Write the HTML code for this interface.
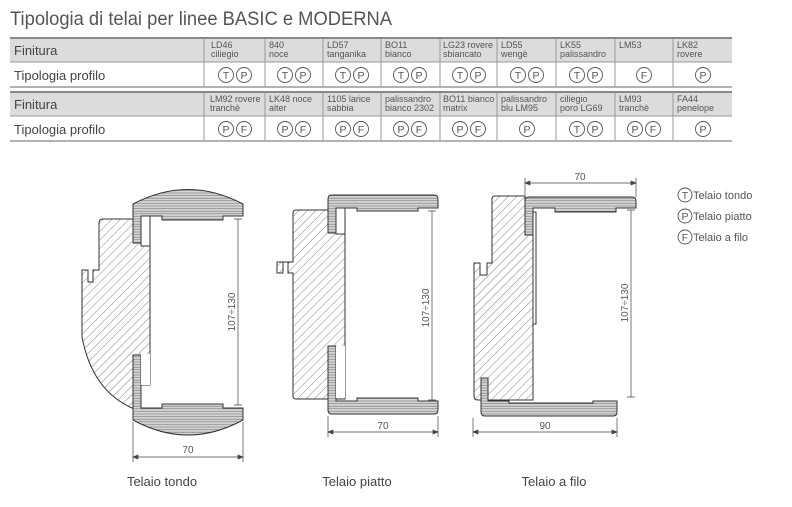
<!DOCTYPE html>
<html><head><meta charset="utf-8"><style>
html,body{margin:0;padding:0;background:#fff;}
svg{display:block;font-family:"Liberation Sans",sans-serif;}
</style></head><body>
<svg width="792" height="507" viewBox="0 0 792 507" xmlns="http://www.w3.org/2000/svg">
<defs>
<pattern id="h" patternUnits="userSpaceOnUse" width="6" height="6" patternTransform="rotate(45)">
<rect width="6" height="6" fill="#fff"/><line x1="0" y1="0" x2="0" y2="6" stroke="#666" stroke-width="0.8"/>
</pattern>
<pattern id="s" patternUnits="userSpaceOnUse" width="4" height="2.6">
<rect width="4" height="2.6" fill="#d4d4d4"/><line x1="0" y1="0.6" x2="4" y2="0.6" stroke="#777" stroke-width="0.6"/>
</pattern>
</defs>
<text x="10" y="25" font-size="19.5" fill="#555" textLength="382" lengthAdjust="spacingAndGlyphs">Tipologia di telai per linee BASIC e MODERNA</text>

<g stroke="#999" stroke-width="1">
<rect x="10" y="38" width="722" height="24" fill="#dcdcdc" stroke="none"/>
<line x1="10" y1="38" x2="732" y2="38" stroke="#888" stroke-width="2"/>
<line x1="10" y1="62" x2="732" y2="62"/>
<line x1="10" y1="87" x2="732" y2="87" stroke-width="1.5"/>
<rect x="10" y="92" width="722" height="24" fill="#dcdcdc" stroke="none"/>
<line x1="10" y1="92" x2="732" y2="92" stroke="#888" stroke-width="2"/>
<line x1="10" y1="116" x2="732" y2="116"/>
<line x1="10" y1="141" x2="732" y2="141" stroke-width="1.5"/>
<path d="M204 39V87M265 39V87M323 39V87M381 39V87M440 39V87M497 39V87M556 39V87M615 39V87M673 39V87M204 93V141M265 93V141M323 93V141M381 93V141M440 93V141M497 93V141M556 93V141M615 93V141M673 93V141"/>
</g>
<g font-size="13" fill="#444">
<text x="14" y="55">Finitura</text><text x="14" y="80">Tipologia profilo</text>
<text x="14" y="109">Finitura</text><text x="14" y="134">Tipologia profilo</text>
</g>
<g font-size="9" fill="#555">
<text x="211" y="48">LD46</text><text x="211" y="57">ciliegio</text>
<text x="269" y="48">840</text><text x="269" y="57">noce</text>
<text x="327" y="48">LD57</text><text x="327" y="57">tanganika</text>
<text x="385" y="48">BO11</text><text x="385" y="57">bianco</text>
<text x="443" y="48">LG23 rovere</text><text x="443" y="57">sbiancato</text>
<text x="501" y="48">LD55</text><text x="501" y="57">wengè</text>
<text x="560" y="48">LK55</text><text x="560" y="57">palissandro</text>
<text x="619" y="48">LM53</text>
<text x="677" y="48">LK82</text><text x="677" y="57">rovere</text>
<text x="210" y="102">LM92 rovere</text><text x="210" y="111">tranchè</text>
<text x="269" y="102">LK48 noce</text><text x="269" y="111">alter</text>
<text x="327" y="102">1105 larice</text><text x="327" y="111">sabbia</text>
<text x="385" y="102">palissandro</text><text x="385" y="111">bianco 2302</text>
<text x="443" y="102">BO11 bianco</text><text x="443" y="111">matrix</text>
<text x="501" y="102">palissandro</text><text x="501" y="111">blu LM95</text>
<text x="560" y="102">ciliegio</text><text x="560" y="111">poro LG69</text>
<text x="619" y="102">LM93</text><text x="619" y="111">tranchè</text>
<text x="677" y="102">FA44</text><text x="677" y="111">penelope</text>
</g>
<g fill="none" stroke="#555" stroke-width="0.9">
<circle cx="226" cy="75" r="7.5"/><circle cx="244" cy="75" r="7.5"/>
<circle cx="285" cy="75" r="7.5"/><circle cx="303" cy="75" r="7.5"/>
<circle cx="343" cy="75" r="7.5"/><circle cx="361" cy="75" r="7.5"/>
<circle cx="401" cy="75" r="7.5"/><circle cx="419" cy="75" r="7.5"/>
<circle cx="460" cy="75" r="7.5"/><circle cx="478" cy="75" r="7.5"/>
<circle cx="518" cy="75" r="7.5"/><circle cx="536" cy="75" r="7.5"/>
<circle cx="577" cy="75" r="7.5"/><circle cx="595" cy="75" r="7.5"/>
<circle cx="644" cy="75" r="7.5"/><circle cx="703" cy="75" r="7.5"/>
<circle cx="226" cy="129" r="7.5"/><circle cx="244" cy="129" r="7.5"/>
<circle cx="285" cy="129" r="7.5"/><circle cx="303" cy="129" r="7.5"/>
<circle cx="343" cy="129" r="7.5"/><circle cx="361" cy="129" r="7.5"/>
<circle cx="401" cy="129" r="7.5"/><circle cx="419" cy="129" r="7.5"/>
<circle cx="460" cy="129" r="7.5"/><circle cx="478" cy="129" r="7.5"/>
<circle cx="527" cy="129" r="7.5"/>
<circle cx="577" cy="129" r="7.5"/><circle cx="595" cy="129" r="7.5"/>
<circle cx="635" cy="129" r="7.5"/><circle cx="653" cy="129" r="7.5"/>
<circle cx="703" cy="129" r="7.5"/>
<circle cx="685" cy="195" r="7"/><circle cx="685" cy="216" r="7"/><circle cx="685" cy="237" r="7"/>
</g>
<g font-size="10.5" fill="#555" text-anchor="middle">
<text x="226" y="79">T</text><text x="244" y="79">P</text>
<text x="285" y="79">T</text><text x="303" y="79">P</text>
<text x="343" y="79">T</text><text x="361" y="79">P</text>
<text x="401" y="79">T</text><text x="419" y="79">P</text>
<text x="460" y="79">T</text><text x="478" y="79">P</text>
<text x="518" y="79">T</text><text x="536" y="79">P</text>
<text x="577" y="79">T</text><text x="595" y="79">P</text>
<text x="644" y="79">F</text><text x="703" y="79">P</text>
<text x="226" y="133">P</text><text x="244" y="133">F</text>
<text x="285" y="133">P</text><text x="303" y="133">F</text>
<text x="343" y="133">P</text><text x="361" y="133">F</text>
<text x="401" y="133">P</text><text x="419" y="133">F</text>
<text x="460" y="133">P</text><text x="478" y="133">F</text>
<text x="527" y="133">P</text>
<text x="577" y="133">T</text><text x="595" y="133">P</text>
<text x="635" y="133">P</text><text x="653" y="133">F</text>
<text x="703" y="133">P</text>
<text x="685" y="199">T</text><text x="685" y="220">P</text><text x="685" y="241">F</text>
</g>
<g font-size="11" fill="#555">
<text x="693" y="199">Telaio tondo</text><text x="693" y="220">Telaio piatto</text><text x="693" y="241">Telaio a filo</text>
</g>

<!-- Drawing 1 -->
<g stroke="#333" stroke-width="1">
<path d="M103 219 H150 V385 H140 V408 H132 Q92 390 82 337 V270 H88 V282 H93 V270 H99 V223 Q99 219 103 219Z" fill="url(#h)"/>
<path d="M133 204 Q188 175 243 204 V216 H223 V220 H162 V216 H141 V243 H133Z" fill="url(#s)"/>
<path d="M133 408 V355 H141 V408 H162 V404 H223 V408 H243 V420 Q188 450 133 420Z" fill="url(#s)"/>
<rect x="141" y="216" width="9" height="30" fill="#fff"/>
<rect x="141" y="354" width="9" height="31" fill="#fff" stroke="none"/>
</g>
<g stroke="#444" stroke-width="0.7" fill="none">
<path d="M238 219V405M234 219H242M234 405H242"/>
<path d="M133 422V462M243 422V462M133 457H243"/>
<path d="M133 457l5-2v4zM243 457l-5-2v4z" fill="#444"/>
</g>
<text x="188" y="453" font-size="10" fill="#555" text-anchor="middle">70</text>
<text transform="translate(235,312) rotate(-90)" font-size="10" fill="#555" text-anchor="middle">107÷130</text>

<!-- Drawing 2 -->
<g stroke="#333" stroke-width="1">
<path d="M296 210 H345 V399 H296 Q293 399 293 396 V273 H288 V262 H283 V273 H277 V262 H293 V213 Q293 210 296 210Z" fill="url(#h)"/>
<path d="M328 199 Q328 195 332 195 H434 Q438 195 438 199 V208 H418 V211 H357 V208 H336 V233 H328Z" fill="url(#s)"/>
<path d="M328 401 V346 H336 V401 H357 V398 H418 V401 H438 V410 Q438 414 434 414 H332 Q328 414 328 410Z" fill="url(#s)"/>
<rect x="336" y="208" width="9" height="26" fill="#fff"/>
<rect x="336" y="346" width="9" height="52" fill="#fff" stroke="none"/>
</g>
<g stroke="#444" stroke-width="0.7" fill="none">
<path d="M432 211V400M428 211H436M428 400H436"/>
<path d="M328 416V437M438 416V437M328 432H438"/>
<path d="M328 432l5-2v4zM438 432l-5-2v4z" fill="#444"/>
</g>
<text x="383" y="429" font-size="10" fill="#555" text-anchor="middle">70</text>
<text transform="translate(429,308) rotate(-90)" font-size="10" fill="#555" text-anchor="middle">107÷130</text>

<!-- Drawing 3 -->
<g stroke="#333" stroke-width="1">
<path d="M495 196 H525 V235 H533 V400 H478 Q474 400 474 396 V263 H480 V275 H487 V263 H492 V199 Q492 196 495 196Z" fill="url(#h)"/>
<path d="M529 197 H632 Q636 197 636 201 V208 H616 V212 H555 V208 H533 V235 H525 V201 Q525 197 529 197Z" fill="url(#s)"/>
<rect x="533" y="212" width="3" height="112" fill="#fff"/>
<path d="M481 378 H488 V401 H509 V403 H593 V401 H617 V412 Q617 416 613 416 H485 Q481 416 481 412Z" fill="url(#s)"/>
</g>
<g stroke="#444" stroke-width="0.7" fill="none">
<path d="M631 210V397M627 210H635M627 397H635"/>
<path d="M525 178V197M636 178V197M525 183H636"/>
<path d="M525 183l5-2v4zM636 183l-5-2v4z" fill="#444"/>
<path d="M473 418V437M617 418V437M473 432H617"/>
<path d="M473 432l5-2v4zM617 432l-5-2v4z" fill="#444"/>
</g>
<text x="580" y="180" font-size="10" fill="#555" text-anchor="middle">70</text>
<text x="545" y="429" font-size="10" fill="#555" text-anchor="middle">90</text>
<text transform="translate(628,303) rotate(-90)" font-size="10" fill="#555" text-anchor="middle">107÷130</text>

<g font-size="13" fill="#444" text-anchor="middle">
<text x="162" y="486">Telaio tondo</text>
<text x="357" y="486">Telaio piatto</text>
<text x="554" y="486">Telaio a filo</text>
</g>
</svg>
</body></html>
